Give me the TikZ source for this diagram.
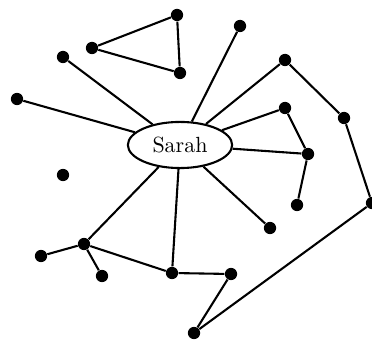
\documentclass[tikz,border=0pt]{standalone}
\usetikzlibrary{shapes.geometric}
\begin{document}
\begin{tikzpicture}[x=0.016cm,y=-0.016cm,
  dot/.style={circle,fill=black,inner sep=0pt,minimum size=5.6pt},
  edge/.style={line width=0.95pt},
  hub/.style={draw,ellipse,line width=0.95pt,minimum width=47.5pt,minimum height=21pt,inner sep=0pt,fill=white}]
\useasboundingbox (0,0) rectangle (372,340);
\node[hub] (s) at (180,145) {Sarah};
\node[dot] (A) at (177,15) {};
\node[dot] (B) at (92,48) {};
\node[dot] (C) at (180,73) {};
\node[dot] (D) at (240,26) {};
\node[dot] (E) at (63,57) {};
\node[dot] (F) at (17,99) {};
\node[dot] (G) at (285,60) {};
\node[dot] (H) at (285,108) {};
\node[dot] (I) at (344,118) {};
\node[dot] (J) at (308,154) {};
\node[dot] (K) at (63,175) {};
\node[dot] (L) at (297,205) {};
\node[dot] (M) at (270,228) {};
\node[dot] (N) at (372,203) {};
\node[dot] (O) at (84,244) {};
\node[dot] (P) at (41,256) {};
\node[dot] (Q) at (102,276) {};
\node[dot] (R) at (172,273) {};
\node[dot] (S) at (231,274) {};
\node[dot] (T) at (194,333) {};
\draw[edge] (A) -- (B) -- (C) -- (A);
\foreach \t in {D,E,F,G,H,J,M,R,O} \draw[edge] (s) -- (\t);
\draw[edge] (G) -- (I) -- (N) -- (T) -- (S) -- (R) -- (O) -- (P);
\draw[edge] (O) -- (Q);
\draw[edge] (H) -- (J) -- (L);
\end{tikzpicture}
\end{document}
